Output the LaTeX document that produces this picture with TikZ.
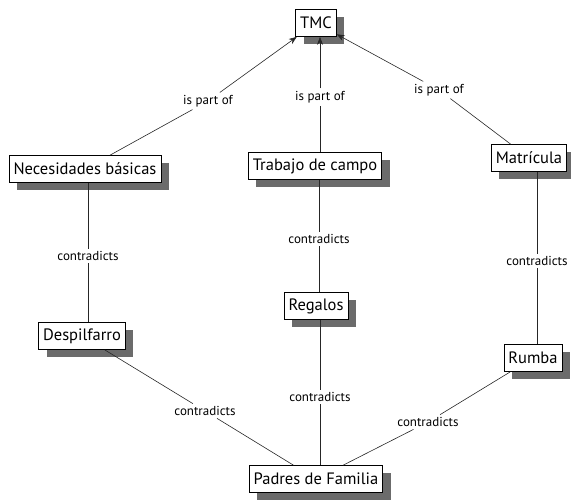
\documentclass[tikz,border=0pt]{standalone}
\usepackage{fontspec}
\setmainfont{PT Sans}
\usetikzlibrary{shadows,arrows.meta}
\begin{document}
\begin{tikzpicture}[x=1pt,y=-1pt,
  concept/.style={draw=black, fill=white, line width=0.7pt, inner xsep=4.5pt, inner ysep=0pt,
    minimum height=27pt, font=\fontsize{16.5}{18}\selectfont, text=black,
    drop shadow={shadow xshift=8pt, shadow yshift=-7pt, fill=black!58, opacity=1}},
  phrase/.style={inner sep=2.5pt, font=\fontsize{13}{14}\selectfont, text=black},
  link/.style={draw=black!85, line width=0.6pt},
  arr/.style={link, -{Stealth[length=8pt,width=6pt]}}]
\useasboundingbox (0,0) rectangle (571,499);
\node[concept] (tmc) at (316,23) {TMC};
\node[concept] (nec) at (85,169) {Necesidades básicas};
\node[concept] (trab) at (315,166) {Trabajo de campo};
\node[concept] (mat) at (529,158) {Matrícula};
\node[concept] (reg) at (316,306) {Regalos};
\node[concept] (desp) at (82,336) {Despilfarro};
\node[concept] (rumba) at (533,358) {Rumba};
\node[concept] (padres) at (316,479) {Padres de Familia};
\node[phrase] (l1) at (208,101) {is part of};
\node[phrase] (l2) at (320,97) {is part of};
\node[phrase] (l3) at (439,90) {is part of};
\node[phrase] (c1) at (88,256) {contradicts};
\node[phrase] (c2) at (319,239) {contradicts};
\node[phrase] (c3) at (537,261) {contradicts};
\node[phrase] (c4) at (205,411) {contradicts};
\node[phrase] (c5) at (320,397) {contradicts};
\node[phrase] (c6) at (428,422) {contradicts};
\draw[link] (nec) -- (l1);
\draw[arr] (l1) -- (tmc);
\draw[link] (trab.north -| l2) -- (l2);
\draw[arr] (l2) -- (tmc.south -| l2);
\draw[link] (mat) -- (l3);
\draw[arr] (l3) -- (tmc);
\draw[link] (nec.south -| c1) -- (c1);
\draw[link] (c1) -- (desp.north -| c1);
\draw[link] (trab.south -| c2) -- (c2);
\draw[link] (c2) -- (reg.north -| c2);
\draw[link] (mat.south -| c3) -- (c3);
\draw[link] (c3) -- (rumba.north -| c3);
\draw[link] (desp) -- (c4);
\draw[link] (c4) -- (padres);
\draw[link] (reg.south -| c5) -- (c5);
\draw[link] (c5) -- (padres.north -| c5);
\draw[link] (rumba) -- (c6);
\draw[link] (c6) -- (padres);
\end{tikzpicture}
\end{document}
